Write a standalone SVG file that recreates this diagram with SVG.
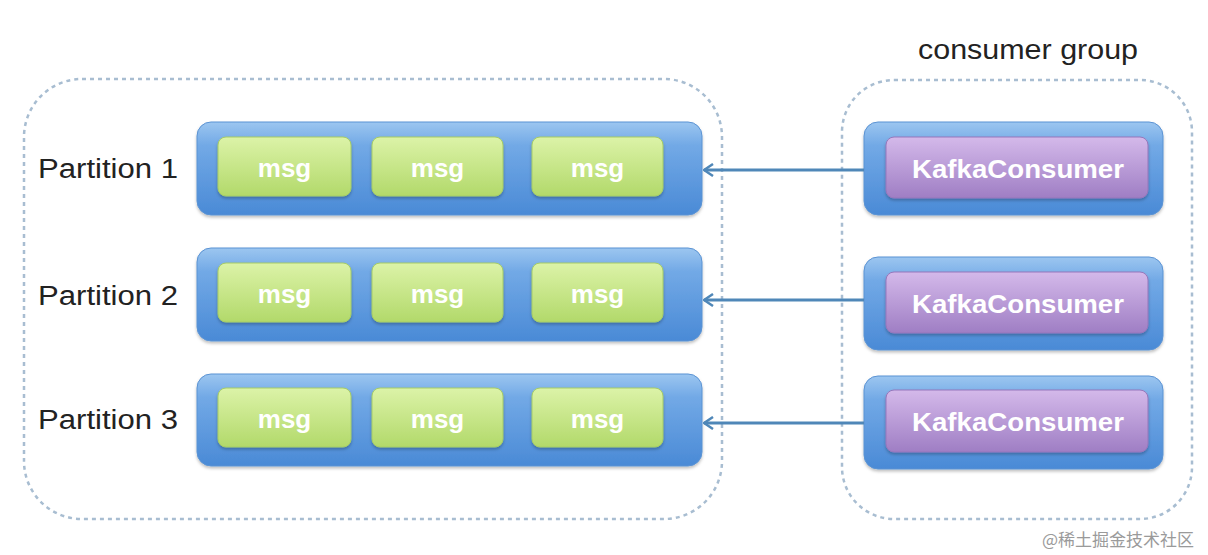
<svg xmlns="http://www.w3.org/2000/svg" width="1208" height="555" viewBox="0 0 1208 555">
<defs>
<linearGradient id="gBlue" x1="0" y1="0" x2="0" y2="1">
<stop offset="0" stop-color="#9cc6f0"/>
<stop offset="0.25" stop-color="#72a9e6"/>
<stop offset="1" stop-color="#4a8ad6"/>
</linearGradient>
<linearGradient id="gGreen" x1="0" y1="0" x2="0" y2="1">
<stop offset="0" stop-color="#dcf3a8"/>
<stop offset="1" stop-color="#b2d96a"/>
</linearGradient>
<linearGradient id="gPurple" x1="0" y1="0" x2="0" y2="1">
<stop offset="0" stop-color="#d4b9ea"/>
<stop offset="1" stop-color="#9f7ec4"/>
</linearGradient>
<filter id="sh" x="-5%" y="-10%" width="110%" height="130%">
<feDropShadow dx="0" dy="2" stdDeviation="1.5" flood-color="#000" flood-opacity="0.25"/>
</filter>
<marker id="ah" viewBox="0 0 12 14" refX="11" refY="7" markerWidth="12" markerHeight="14" markerUnits="userSpaceOnUse" orient="auto">
<path d="M2,1 L11,7 L2,13" fill="none" stroke="#4f87b8" stroke-width="2.5"/>
</marker>
</defs>
<style>
.cont{fill:none;stroke:#a8bdd1;stroke-width:2.5;stroke-dasharray:4 4}
.bar{fill:url(#gBlue);stroke:#5b93d3;stroke-width:1;filter:url(#sh)}
.msg{fill:url(#gGreen);stroke:#a6cc66;stroke-width:1;filter:url(#sh)}
.kc{fill:url(#gPurple);stroke:#9577bb;stroke-width:1;filter:url(#sh)}
.lbl{font-family:"Liberation Sans","DejaVu Sans",sans-serif;font-size:27px;fill:#222}
.wt{font-family:"Liberation Sans","DejaVu Sans",sans-serif;font-size:26px;fill:#fff;text-anchor:middle;font-weight:bold}
.conn{stroke:#4f87b8;stroke-width:3;fill:none}
.wm{font-family:"Noto Sans CJK SC",sans-serif;font-size:17px;fill:#9a9a9a}
</style>
<rect x="24" y="79" width="698" height="440" rx="58" class="cont"/>
<rect x="842" y="80" width="350" height="439" rx="52" class="cont"/>
<text x="918" y="59" class="lbl" textLength="220" lengthAdjust="spacingAndGlyphs">consumer group</text>

<g id="partition1">
<text x="38" y="178" class="lbl" textLength="140" lengthAdjust="spacingAndGlyphs">Partition 1</text>
<rect x="197" y="122" width="505" height="93" rx="14" class="bar"/>
<rect x="218" y="137" width="133" height="59" rx="8" class="msg"/>
<rect x="372" y="137" width="131" height="59" rx="8" class="msg"/>
<rect x="532" y="137" width="131" height="59" rx="8" class="msg"/>
<text x="284.5" y="177" class="wt">msg</text>
<text x="437.5" y="177" class="wt">msg</text>
<text x="597.5" y="177" class="wt">msg</text>
</g>
<g id="partition2">
<text x="38" y="305" class="lbl" textLength="140" lengthAdjust="spacingAndGlyphs">Partition 2</text>
<rect x="197" y="248" width="505" height="93" rx="14" class="bar"/>
<rect x="218" y="263" width="133" height="59" rx="8" class="msg"/>
<rect x="372" y="263" width="131" height="59" rx="8" class="msg"/>
<rect x="532" y="263" width="131" height="59" rx="8" class="msg"/>
<text x="284.5" y="303" class="wt">msg</text>
<text x="437.5" y="303" class="wt">msg</text>
<text x="597.5" y="303" class="wt">msg</text>
</g>
<g id="partition3">
<text x="38" y="429" class="lbl" textLength="140" lengthAdjust="spacingAndGlyphs">Partition 3</text>
<rect x="197" y="374" width="505" height="92" rx="14" class="bar"/>
<rect x="218" y="388" width="133" height="59" rx="8" class="msg"/>
<rect x="372" y="388" width="131" height="59" rx="8" class="msg"/>
<rect x="532" y="388" width="131" height="59" rx="8" class="msg"/>
<text x="284.5" y="428" class="wt">msg</text>
<text x="437.5" y="428" class="wt">msg</text>
<text x="597.5" y="428" class="wt">msg</text>
</g>

<g id="consumer1">
<rect x="864" y="122" width="299" height="93" rx="14" class="bar"/>
<rect x="886" y="137" width="262" height="61" rx="8" class="kc"/>
<text x="1018" y="178" class="wt" textLength="212" lengthAdjust="spacingAndGlyphs">KafkaConsumer</text>
</g>
<g id="consumer2">
<rect x="864" y="257" width="299" height="93" rx="14" class="bar"/>
<rect x="886" y="272" width="262" height="61" rx="8" class="kc"/>
<text x="1018" y="313" class="wt" textLength="212" lengthAdjust="spacingAndGlyphs">KafkaConsumer</text>
</g>
<g id="consumer3">
<rect x="864" y="376" width="299" height="93" rx="14" class="bar"/>
<rect x="886" y="390" width="262" height="62" rx="8" class="kc"/>
<text x="1018" y="431" class="wt" textLength="212" lengthAdjust="spacingAndGlyphs">KafkaConsumer</text>
</g>

<g id="connectors">
<line x1="864" y1="170" x2="704" y2="170" class="conn" marker-end="url(#ah)"/>
<line x1="864" y1="300" x2="704" y2="300" class="conn" marker-end="url(#ah)"/>
<line x1="864" y1="423" x2="704" y2="423" class="conn" marker-end="url(#ah)"/>
</g>

<text x="1042" y="546" class="wm">@稀土掘金技术社区</text>
</svg>
